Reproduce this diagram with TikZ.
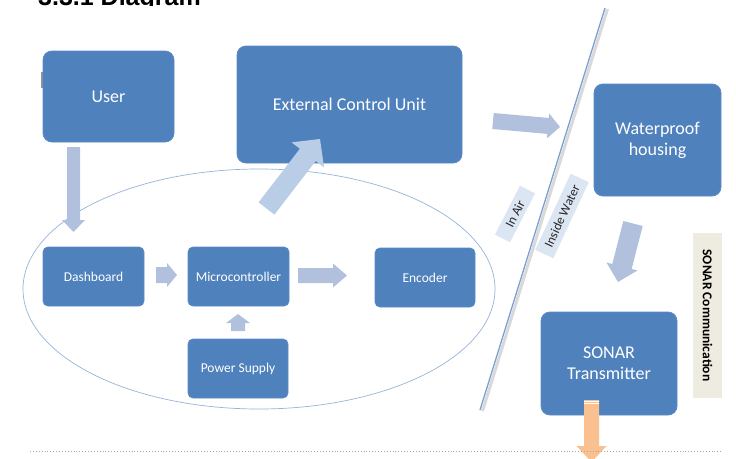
\documentclass[tikz,border=0pt]{standalone}
\usepackage{fontspec}
\setmainfont{Carlito}
\newfontfamily\titlefont{Liberation Sans}
\usetikzlibrary{calc,shapes.geometric}
\definecolor{boxblue}{HTML}{4F81BD}
\definecolor{boxedge}{HTML}{5A8AC4}
\definecolor{arrblue}{HTML}{B0C0DD}
\definecolor{arrlight}{HTML}{B9CDE6}
\definecolor{ellblue}{HTML}{95B3D7}
\definecolor{lblfill}{HTML}{DCE6F2}
\definecolor{sonfill}{HTML}{EEECE1}
\definecolor{orangearr}{HTML}{FAC090}
\definecolor{lineblue}{HTML}{7A9FD4}
\newcommand\blockarr[6][]{%
  \coordinate (ba-h) at ($(#3)!#6!(#2)$);
  \fill[#1] ($(#2)!#4!90:(#3)$) -- ($(ba-h)!#4!90:(#3)$) -- ($(ba-h)!#5!90:(#3)$) -- (#3)
    -- ($(ba-h)!#5!-90:(#3)$) -- ($(ba-h)!#4!-90:(#3)$) -- ($(#2)!#4!-90:(#3)$) -- cycle;}
\tikzset{
  bigbox/.style={rectangle, rounded corners=9pt, fill=boxblue, draw=boxedge, line width=0.8pt,
    text=white, align=center, inner sep=0pt, font=\fontsize{18}{21}\selectfont},
  smallbox/.style={rectangle, rounded corners=5pt, fill=boxblue, draw=boxedge, line width=0.8pt,
    text=white, align=center, inner sep=0pt, minimum width=101pt, minimum height=59pt,
    font=\fontsize{13.5}{16}\selectfont},
  tagbox/.style={rectangle, fill=lblfill, inner sep=0pt, text=black!85,
    font=\fontsize{13}{15}\selectfont},
  arr/.style={fill=arrblue},
}
\begin{document}
\begin{tikzpicture}[x=1pt,y=-1pt]
\useasboundingbox (0,0) rectangle (736,458);
\clip (0,0) rectangle (736,458);
% title (cut off at top)
\begin{scope}
\clip (0,0) rectangle (736,5.5);
\node[anchor=base west, inner sep=0pt, font=\titlefont\bfseries\fontsize{25}{28}\selectfont] (title) at (38,5) {3.3.1 Diagram};
\end{scope}
% small grey mark
\fill[gray!85] (41,72) rectangle (43,88);
% ellipse group
\node[ellipse, draw=ellblue, line width=0.7pt, minimum width=472pt, minimum height=240pt, inner sep=0pt] (grp) at (259,289) {};
% boxes
\node[bigbox, minimum width=131pt, minimum height=91pt] (user) at (108.5,96.5) {User};
\node[bigbox, minimum width=225pt, minimum height=117pt] (ecu) at (349.5,104.5) {External Control Unit};
\node[bigbox, minimum width=127pt, minimum height=112pt] (wph) at (657.5,140) {Waterproof\\housing};
\node[bigbox, minimum width=136pt, minimum height=103pt] (sonar) at (609,363.5) {SONAR\\Transmitter};
\node[smallbox] (dash) at (93.5,276.5) {Dashboard};
\node[smallbox] (micro) at (238.5,276.5) {Microcontroller};
\node[smallbox, minimum width=100pt] (enc) at (425,277.5) {Encoder};
\node[smallbox, minimum width=100pt] (power) at (238,368.5) {Power Supply};
% divider line with shadow
\coordinate (lt) at (605,8);
\coordinate (lb) at (480,410);
\draw[gray!30, line width=3pt] ($(lt)+(2.5,1)$) -- ($(lb)+(2.5,1)$);
\draw[lineblue, line width=1.3pt] (lt) -- (lb);
% labels
\node[tagbox, rotate=63, minimum width=55pt, minimum height=17pt] (inair) at (515,214) {In Air};
\node[tagbox, rotate=65, minimum width=84pt, minimum height=20pt] (inwater) at (562,216) {Inside Water};
\node[rectangle, fill=sonfill, rotate=-90, minimum width=165pt, minimum height=29pt, inner sep=0pt,
  font=\bfseries\fontsize{13.5}{16}\selectfont] (sonarcom) at (707.5,315.5) {SONAR Communication};
% arrow end points
\coordinate (a1s) at (73.5,147);  \coordinate (a1t) at (73.5,232);
\coordinate (a2s) at (156,275);   \coordinate (a2t) at (177,275);
\coordinate (a3s) at (298,275.5); \coordinate (a3t) at (347,275.5);
\coordinate (a4s) at (238,331);   \coordinate (a4t) at (238,314);
\coordinate (a5s) at (266.5,208.5); \coordinate (a5t) at (320,139);
\coordinate (a6s) at (493,121);   \coordinate (a6t) at (560,127);
\coordinate (a7s) at (633,223.5); \coordinate (a7t) at (618,282);
\coordinate (a8s) at (591.5,400); \coordinate (a8t) at (591.5,462);
% block arrows
\blockarr[arr]{a1s}{a1t}{6.5pt}{11.5pt}{12pt}
\blockarr[arr]{a2s}{a2t}{8pt}{12pt}{10pt}
\blockarr[arr]{a3s}{a3t}{7.5pt}{12pt}{14pt}
\blockarr[arr]{a4s}{a4t}{7pt}{12pt}{9pt}
\blockarr[fill=arrlight]{a5s}{a5t}{10pt}{20.5pt}{20pt}
\blockarr[arr]{a6s}{a6t}{8pt}{12.5pt}{12pt}
\blockarr[arr]{a7s}{a7t}{10pt}{16pt}{16pt}
\blockarr[fill=orangearr]{a8s}{a8t}{7.5pt}{15pt}{16pt}
\draw[white, line width=0.5pt] (584,401.5) -- (599,401.5) (584,403.5) -- (599,403.5);
% dotted bottom rule
\coordinate (rl) at (30,451);
\coordinate (rr) at (722,451);
\draw[gray!70, dotted, line width=0.9pt] (rl) -- (rr);
\end{tikzpicture}
\end{document}
